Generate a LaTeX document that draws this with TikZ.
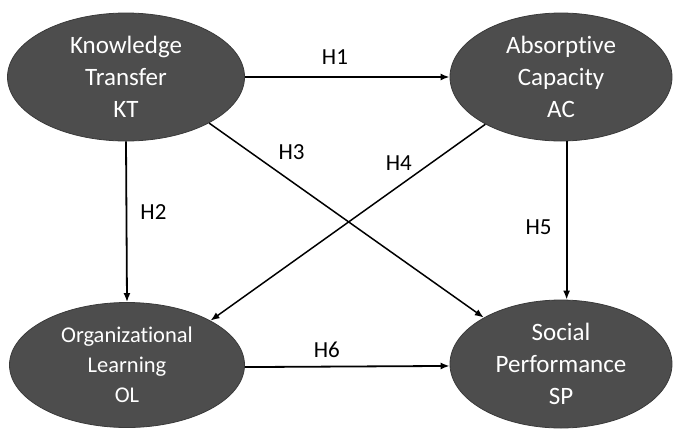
\documentclass[tikz,border=0pt]{standalone}
\usepackage{fontspec}
\setmainfont{Carlito}[Ligatures={NoCommon,NoRare,NoContextual}]
\usetikzlibrary{arrows.meta,shapes.geometric,positioning}
\definecolor{ellfill}{RGB}{77,77,77}
\definecolor{ellline}{RGB}{58,58,58}

\begin{document}
\begin{tikzpicture}[x=1pt,y=-1pt,->,>={Latex[length=9pt,width=7pt]},
line width=1.8pt]
\tikzstyle{construct}=[ellipse,fill=ellfill,draw=ellline,line width=0.8pt,text=white,align=center,inner sep=0pt,font=\fontsize{25}{32}\selectfont]
\tikzstyle{hyp}=[font=\fontsize{23}{27}\selectfont,text=black,inner sep=0pt]

\useasboundingbox (0,0) rectangle (677,429);

\node[construct,minimum width=237pt,minimum height=128pt] (KT) at (126,77) {Knowledge\\Transfer\\KT};
\node[construct,minimum width=222pt,minimum height=128pt] (AC) at (561,77) {Absorp\kern0pt tive\\Capacity\\AC};
\node[construct,minimum width=235pt,minimum height=125pt,font=\fontsize{22.5}{30}\selectfont] (OL) at (127,365) {Organizational\\Learning\\OL};
\node[construct,minimum width=222pt,minimum height=128pt] (SP) at (561,364) {Social\\Performance\\SP};

\path
(KT) edge node[hyp,pos=0.44,yshift=20pt] {H1} (AC)
(KT.south) edge node[hyp,pos=0.44,xshift=27pt] {H2} (OL.north)
(KT.-29) edge[line width=1.5pt] node[hyp,pos=0.3,yshift=29pt] {H3} (SP.149)
(AC.-148.6) edge[line width=1.5pt] node[hyp,pos=0.315,yshift=23pt] {H4} (OL.28)
(AC.-85.5) edge node[hyp,pos=0.54,xshift=-28pt] {H5} (SP.85.5)
(OL.-1) edge node[hyp,pos=0.4,yshift=17pt] {H6} (SP.181);
\end{tikzpicture}
\end{document}
